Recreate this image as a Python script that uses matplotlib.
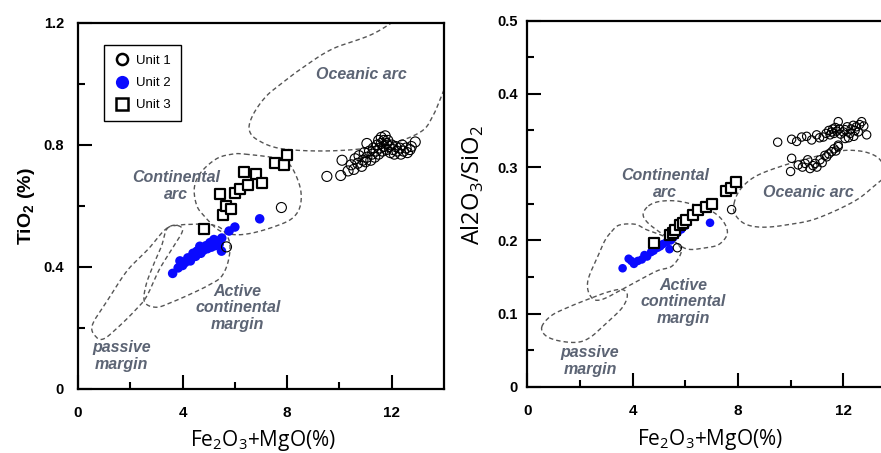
import numpy as np
import matplotlib
matplotlib.use("Agg")
import matplotlib.pyplot as plt
from matplotlib.lines import Line2D

plt.rcParams['font.family'] = ['Liberation Sans', 'DejaVu Sans']
plt.rcParams['mathtext.fontset'] = 'custom'
plt.rcParams['mathtext.rm'] = 'Open Sans'
plt.rcParams['mathtext.bf'] = 'Liberation Sans:bold'

# ---- data ----
# Unit 1 (open circles)
fe_u1_l = [9.52, 10.05, 10.10, 10.33, 10.45, 10.55, 10.60, 10.70, 10.75, 10.85, 10.90, 10.95,
           11.00, 11.05, 11.05, 11.15, 11.20, 11.25, 11.30, 11.35, 11.40, 11.45, 11.50, 11.50,
           11.55, 11.60, 11.60, 11.65, 11.70, 11.70, 11.75, 11.80, 11.80, 11.85, 11.90, 11.95,
           12.00, 12.05, 12.10, 12.15, 12.20, 12.30, 12.35, 12.40, 12.45, 12.55, 12.60, 12.70,
           12.75, 12.90, 7.78, 5.68]
ti_u1 = [0.697, 0.700, 0.750, 0.715, 0.735, 0.720, 0.755, 0.740, 0.765, 0.730, 0.750, 0.775,
         0.745, 0.805, 0.760, 0.780, 0.750, 0.770, 0.790, 0.760, 0.780, 0.800, 0.770, 0.815,
         0.790, 0.825, 0.805, 0.780, 0.815, 0.795, 0.830, 0.805, 0.785, 0.815, 0.795, 0.775,
         0.800, 0.785, 0.770, 0.795, 0.780, 0.790, 0.770, 0.800, 0.780, 0.790, 0.775, 0.785,
         0.795, 0.810, 0.595, 0.466]

fe_u1_r = [9.51, 10.04, 10.23, 10.42, 10.61, 10.80, 10.99, 11.10, 11.24, 11.35, 11.45, 11.50,
           11.56, 11.60, 11.65, 11.70, 11.75, 11.81, 11.85, 11.90, 11.81, 12.00, 12.07, 12.07,
           12.15, 12.26, 12.30, 12.38, 12.45, 12.50, 12.57, 12.62, 12.70, 12.78, 12.89, 12.20,
           12.40,
           10.04, 10.00, 10.29, 10.45, 10.55, 10.65, 10.74, 10.85, 10.93, 11.00, 11.12, 11.20,
           11.30, 11.37, 11.45, 11.56, 11.65, 11.72, 11.81, 7.76, 5.70]
al_u1 = [0.334, 0.338, 0.335, 0.341, 0.342, 0.337, 0.344, 0.340, 0.341, 0.346, 0.350, 0.344,
         0.348, 0.352, 0.346, 0.354, 0.349, 0.362, 0.352, 0.345, 0.330, 0.348, 0.351, 0.339,
         0.355, 0.346, 0.352, 0.357, 0.350, 0.355, 0.348, 0.358, 0.362, 0.356, 0.344, 0.340,
         0.342,
         0.312, 0.294, 0.303, 0.300, 0.305, 0.310, 0.298, 0.302, 0.305, 0.300, 0.310, 0.306,
         0.316, 0.314, 0.318, 0.321, 0.325, 0.322, 0.328, 0.242, 0.190]

# Unit 2 (blue dots)
fe_u2_l = [3.62, 3.83, 3.90, 4.00, 4.10, 4.20, 4.30, 4.40, 4.50, 4.55, 4.66, 4.70, 4.80,
           4.90, 4.95, 5.05, 5.10, 5.20, 5.25, 5.30, 5.40, 5.49, 5.50, 5.78, 6.00, 6.95]
ti_u2 = [0.379, 0.397, 0.420, 0.405, 0.415, 0.430, 0.420, 0.445, 0.435, 0.452, 0.468, 0.445,
         0.455, 0.470, 0.460, 0.480, 0.465, 0.490, 0.470, 0.485, 0.475, 0.452, 0.495, 0.518,
         0.531, 0.558]

fe_u2_r = [3.62, 3.85, 3.95, 4.05, 4.20, 4.35, 4.45, 4.55, 4.70, 4.80, 4.95, 5.05, 5.15,
           5.30, 5.40, 5.45, 5.55, 5.70, 5.85, 6.00, 6.94]
al_u2 = [0.162, 0.175, 0.172, 0.168, 0.172, 0.174, 0.180, 0.178, 0.184, 0.186, 0.190, 0.192,
         0.195, 0.198, 0.188, 0.200, 0.204, 0.210, 0.215, 0.220, 0.224]

# Unit 3 (open squares)
fe_u3_l = [4.82, 5.53, 5.68, 5.87, 5.43, 6.00, 6.19, 6.51, 6.34, 6.80, 7.02, 7.53, 7.88, 8.00]
ti_u3 = [0.523, 0.570, 0.600, 0.590, 0.640, 0.642, 0.655, 0.668, 0.710, 0.705, 0.677, 0.742,
         0.735, 0.768]

fe_u3_r = [4.81, 5.42, 5.55, 5.61, 5.80, 5.90, 6.03, 6.30, 6.50, 6.79, 7.00, 7.55, 7.75, 7.93]
al_u3 = [0.196, 0.208, 0.210, 0.214, 0.221, 0.224, 0.228, 0.235, 0.241, 0.246, 0.249, 0.268,
         0.272, 0.280]

# tectonic setting fields (outline vertices, data units)
ti_oceanic = [(14.5, 1.05), (14.5, 1.27), (13.0, 1.25), (11.3, 1.165), (9.76, 1.116), (8.7, 1.06),
              (7.85, 1.006), (7.2, 0.96), (6.7, 0.90), (6.55, 0.85), (6.9, 0.815), (7.85, 0.787),
              (9.76, 0.781), (11.67, 0.798), (13.07, 0.841), (13.58, 0.896), (14.0, 0.98)]
ti_continental = [(6.4, 0.77), (7.7, 0.755), (8.15, 0.73), (8.5, 0.66), (8.5, 0.60), (8.2, 0.56),
                  (7.6, 0.535), (6.7, 0.512), (6.0, 0.506), (5.4, 0.52), (4.9, 0.56), (4.55, 0.60),
                  (4.45, 0.66), (4.7, 0.71), (5.3, 0.755), (5.9, 0.77)]
ti_active = [(3.4, 0.525), (3.8, 0.537), (4.4, 0.54), (5.0, 0.54), (5.5, 0.525), (5.8, 0.48),
             (5.75, 0.42), (5.5, 0.37), (5.1, 0.345), (4.4, 0.315), (3.6, 0.285), (3.0, 0.268),
             (2.55, 0.285), (2.6, 0.34), (2.9, 0.41), (3.2, 0.47)]
ti_passive = [(3.7, 0.537), (3.3, 0.52), (2.7, 0.46), (1.9, 0.39), (1.2, 0.30), (0.55, 0.21),
              (0.7, 0.17), (1.0, 0.165), (1.5, 0.20), (2.1, 0.25), (2.6, 0.30), (3.1, 0.39),
              (3.6, 0.46), (4.0, 0.52)]

al_oceanic = [(7.85, 0.25), (8.1, 0.27), (8.7, 0.288), (9.8, 0.303), (10.9, 0.314), (11.6, 0.32),
              (12.2, 0.323), (12.9, 0.32), (13.4, 0.31), (13.6, 0.29), (13.2, 0.275), (12.4, 0.253),
              (11.0, 0.23), (10.0, 0.222), (9.0, 0.218), (8.3, 0.222), (7.9, 0.235)]
al_continental = [(4.6, 0.247), (5.0, 0.253), (5.6, 0.254), (6.2, 0.25), (6.9, 0.242), (7.4, 0.228),
                  (7.6, 0.21), (7.3, 0.195), (6.8, 0.19), (6.1, 0.188), (5.6, 0.198), (5.0, 0.212),
                  (4.55, 0.225), (4.4, 0.236)]
al_active = [(3.2, 0.212), (3.5, 0.221), (4.1, 0.222), (4.5, 0.215), (5.1, 0.207), (5.6, 0.198),
             (5.85, 0.185), (5.5, 0.165), (4.9, 0.158), (3.8, 0.137), (2.8, 0.119), (2.4, 0.124),
             (2.3, 0.145), (2.7, 0.18), (2.95, 0.2)]
al_passive = [(0.55, 0.082), (0.9, 0.097), (1.5, 0.108), (2.4, 0.121), (3.1, 0.13), (3.6, 0.133),
              (3.8, 0.125), (3.6, 0.108), (3.0, 0.087), (2.4, 0.068), (1.9, 0.061), (1.2, 0.063),
              (0.7, 0.07)]

field_color = '#555555'
label_color = '#5c6474'


def smooth_closed(pts, n=24):
    # closed Catmull-Rom curve through the outline vertices
    p = np.asarray(pts, float)
    m = len(p)
    t = np.linspace(0, 1, n, endpoint=False)[:, None]
    segs = []
    for i in range(m):
        p0, p1, p2, p3 = p[i - 1], p[i], p[(i + 1) % m], p[(i + 2) % m]
        segs.append(0.5 * (2 * p1 + (-p0 + p2) * t + (2 * p0 - 5 * p1 + 4 * p2 - p3) * t ** 2
                           + (-p0 + 3 * p1 - 3 * p2 + p3) * t ** 3))
    c = np.vstack(segs)
    return np.vstack([c, c[:1]])


def draw_fields(ax, fields):
    for f in fields:
        c = smooth_closed(f)
        ax.plot(c[:, 0], c[:, 1], color=field_color, lw=1.0, ls=(0, (3.2, 2.2)), zorder=1)


def style_axes(ax, ylim, ymajor, yminor, ypad):
    ax.set_xlim(0, 14)
    ax.set_ylim(*ylim)
    ax.set_xticks([0, 4, 8, 12])
    ax.set_xticks([2, 6, 10], minor=True)
    ax.set_yticks(ymajor)
    ax.set_yticks(yminor, minor=True)
    ax.tick_params(which='both', direction='in', width=1.5, top=False, right=False)
    ax.tick_params(which='major', length=10)
    ax.tick_params(which='minor', length=5)
    ax.tick_params(axis='x', which='major', pad=12, labelsize=11)
    ax.tick_params(axis='y', which='major', pad=ypad, labelsize=10.5)
    for lab in ax.get_xticklabels() + ax.get_yticklabels():
        lab.set_fontweight('bold')
    for s in ax.spines.values():
        s.set_linewidth(1.6)


def field_label(ax, x, y, s):
    ax.text(x, y, s, ha='center', va='center', color=label_color, fontsize=11.5,
            fontweight='bold', fontstyle='italic', linespacing=1.15, zorder=2)


fig = plt.figure(figsize=(8.81, 4.53), dpi=100)
ax1 = fig.add_axes([78 / 881, 64 / 453, 366 / 881, 366 / 453])
ax2 = fig.add_axes([527.3 / 881, 66 / 453, 368.6 / 881, 366.5 / 453])

# ---- left: TiO2 ----
draw_fields(ax1, [ti_oceanic, ti_continental, ti_active, ti_passive])
ax1.scatter(fe_u2_l, ti_u2, s=47, c='#0a0aff', edgecolors='none', zorder=3)
ax1.scatter(fe_u1_l, ti_u1, s=52, facecolors='none', edgecolors='black', linewidths=0.8, zorder=4)
ax1.scatter(fe_u3_l, ti_u3, s=46, marker='s', facecolors='white', edgecolors='black',
            linewidths=1.6, zorder=5)
style_axes(ax1, (0, 1.2), [0, 0.4, 0.8, 1.2], [0.2, 0.6, 1.0], 10)
ax1.set_yticklabels(['0', '0.4', '0.8', '1.2'])
field_label(ax1, 10.84, 1.03, 'Oceanic arc')
field_label(ax1, 3.74, 0.665, 'Continental\narc')
field_label(ax1, 6.11, 0.266, 'Active\ncontinental\nmargin')
field_label(ax1, 1.67, 0.109, 'passive\nmargin')
ax1.set_ylabel(r'TiO$_\mathbf{2}$ (%)', fontsize=14, fontweight='bold')
ax1.yaxis.set_label_coords(-0.112, 0.5)
ax1.set_xlabel(r'Fe$_2$O$_3$+MgO(%)', fontsize=15, family='Open Sans')
ax1.xaxis.set_label_coords(0.506, -0.106)

handles = [
    Line2D([], [], ls='none', marker='o', ms=8, mfc='none', mec='black', mew=1.8),
    Line2D([], [], ls='none', marker='o', ms=9.5, mfc='#0a0aff', mec='none'),
    Line2D([], [], ls='none', marker='s', ms=8.5, mfc='white', mec='black', mew=1.8),
]
leg = ax1.legend(handles, ['Unit 1', 'Unit 2', 'Unit 3'], loc='upper left',
                 bbox_to_anchor=(0.071, 0.94), borderaxespad=0, fancybox=False,
                 framealpha=1, edgecolor='black', fontsize=9.5, handlelength=1.2,
                 handletextpad=0.5, labelspacing=0.75, borderpad=0.75)
leg.get_frame().set_linewidth(1.0)

# ---- right: Al2O3/SiO2 ----
draw_fields(ax2, [al_oceanic, al_continental, al_active, al_passive])
ax2.scatter(fe_u2_r, al_u2, s=38, c='#0a0aff', edgecolors='none', zorder=3)
ax2.scatter(fe_u1_r, al_u1, s=36, facecolors='none', edgecolors='black', linewidths=0.8, zorder=4)
ax2.scatter(fe_u3_r, al_u3, s=42, marker='s', facecolors='white', edgecolors='black',
            linewidths=1.6, zorder=5)
style_axes(ax2, (0, 0.5), [0, 0.1, 0.2, 0.3, 0.4, 0.5], [0.05, 0.15, 0.25, 0.35, 0.45], 7)
ax2.set_yticklabels(['0', '0.1', '0.2', '0.3', '0.4', '0.5'])
field_label(ax2, 5.23, 0.277, 'Continental\narc')
field_label(ax2, 10.67, 0.266, 'Oceanic arc')
field_label(ax2, 5.92, 0.116, 'Active\ncontinental\nmargin')
field_label(ax2, 2.38, 0.036, 'passive\nmargin')
ax2.set_ylabel(r'Al2O$_3$/SiO$_2$', fontsize=17, family='Open Sans')
ax2.yaxis.set_label_coords(-0.112, 0.551)
ax2.set_xlabel(r'Fe$_2$O$_3$+MgO(%)', fontsize=15, family='Open Sans')
ax2.xaxis.set_label_coords(0.496, -0.11)

fig.savefig('out.png', dpi=100)
